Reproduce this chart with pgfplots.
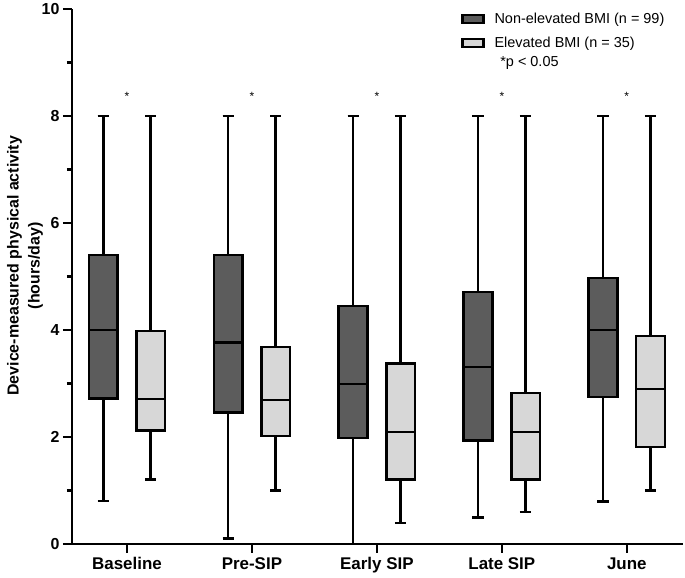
\documentclass[border=0pt]{standalone}
\usepackage{pgfplots}
\pgfplotsset{compat=1.18}
\usepgfplotslibrary{statistics}
\usepackage{fontspec}
\setmainfont{Liberation Sans}

\definecolor{darkbox}{HTML}{5C5C5C}
\definecolor{lightbox}{HTML}{D7D7D7}

\pgfplotsset{
  bx/.style={boxplot prepared, fill=#1, draw=black, line width=2.6bp, solid, mark=none, forget plot},
}

\begin{document}
\begin{tikzpicture}
\begin{axis}[
  name=ax,
  scale only axis,
  width=611bp, height=535bp,
  xmin=-0.44, xmax=4.45,
  ymin=0, ymax=10,
  axis x line*=bottom, axis y line*=left,
  axis line style={line width=2.4bp, black},
  xtick={0,1,2,3,4},
  xticklabels={Baseline,Pre-SIP,Early SIP,Late SIP,June},
  ytick={0,2,4,6,8,10},
  minor ytick={1,3,5,7,9},
  tick align=outside,
  major tick length=9bp, minor tick length=5bp,
  every tick/.style={black, line width=2.2bp},
  /pgf/number format/assume math mode=true,
  x tick label style={font=\fontsize{17}{17}\selectfont\bfseries, yshift=-1bp},
  y tick label style={font=\fontsize{16}{16}\selectfont\bfseries},
  ylabel={Device-measured physical activity\\(hours/day)},
  ylabel style={font=\fontsize{16}{21}\selectfont\bfseries, align=center,
    at={(axis description cs:-0.077,0.52)}, anchor=center},
  boxplot/draw direction=y,
  boxplot/box extend=0.23,
  boxplot/whisker extend=0.09,
  legend style={at={(rel axis cs:0.632,1.0)}, anchor=north west, draw=none, fill=none,
    font=\fontsize{14.5}{14.5}\selectfont, row sep=8bp,
    /tikz/every odd column/.append style={column sep=8bp}},
  legend cell align=left,
  legend image code/.code={\draw[#1] (0bp,-4bp) rectangle (21bp,4bp);},
]
\addlegendimage{fill=darkbox, draw=black, line width=2.2bp}
\addlegendentry{Non-elevated BMI (n = 99)}
\addlegendimage{fill=lightbox, draw=black, line width=2.2bp}
\addlegendentry{Elevated BMI (n = 35)}

% Baseline
\addplot[bx=darkbox, boxplot prepared={draw position=-0.19, lower whisker=0.8, lower quartile=2.72, median=4.0, upper quartile=5.4, upper whisker=8}] coordinates {};
\addplot[bx=lightbox, boxplot prepared={draw position=0.19, lower whisker=1.2, lower quartile=2.12, median=2.71, upper quartile=3.98, upper whisker=8}] coordinates {};
% Pre-SIP
\addplot[bx=darkbox, boxplot prepared={draw position=0.81, lower whisker=0.1, lower quartile=2.46, median=3.76, upper quartile=5.4, upper whisker=8}] coordinates {};
\addplot[bx=lightbox, boxplot prepared={draw position=1.19, lower whisker=1.0, lower quartile=2.02, median=2.69, upper quartile=3.68, upper whisker=8}] coordinates {};
% Early SIP
\addplot[bx=darkbox, boxplot prepared={draw position=1.81, lower whisker=0.0, lower quartile=1.98, median=2.99, upper quartile=4.45, upper whisker=8}] coordinates {};
\addplot[bx=lightbox, boxplot prepared={draw position=2.19, lower whisker=0.39, lower quartile=1.21, median=2.09, upper quartile=3.37, upper whisker=8}] coordinates {};
% Late SIP
\addplot[bx=darkbox, boxplot prepared={draw position=2.81, lower whisker=0.5, lower quartile=1.93, median=3.31, upper quartile=4.71, upper whisker=8}] coordinates {};
\addplot[bx=lightbox, boxplot prepared={draw position=3.19, lower whisker=0.6, lower quartile=1.21, median=2.09, upper quartile=2.82, upper whisker=8}] coordinates {};
% June
\addplot[bx=darkbox, boxplot prepared={draw position=3.81, lower whisker=0.79, lower quartile=2.75, median=4.0, upper quartile=4.97, upper whisker=8}] coordinates {};
\addplot[bx=lightbox, boxplot prepared={draw position=4.19, lower whisker=1.0, lower quartile=1.81, median=2.9, upper quartile=3.89, upper whisker=8}] coordinates {};

% significance stars
\addplot[draw=none, mark=none, forget plot, nodes near coords={*},
  every node near coord/.append style={anchor=center, font=\fontsize{12}{12}\selectfont}]
  coordinates {(0,8.36) (1,8.36) (2,8.36) (3,8.36) (4,8.36)};

\node[anchor=west, font=\fontsize{14.5}{14.5}\selectfont] at (axis cs:2.96,8.99) {*p < 0.05};
\end{axis}
\path ([shift={(-72bp,-34bp)}]ax.south west) rectangle ([shift={(2bp,8bp)}]ax.north east);
\end{tikzpicture}
\end{document}
